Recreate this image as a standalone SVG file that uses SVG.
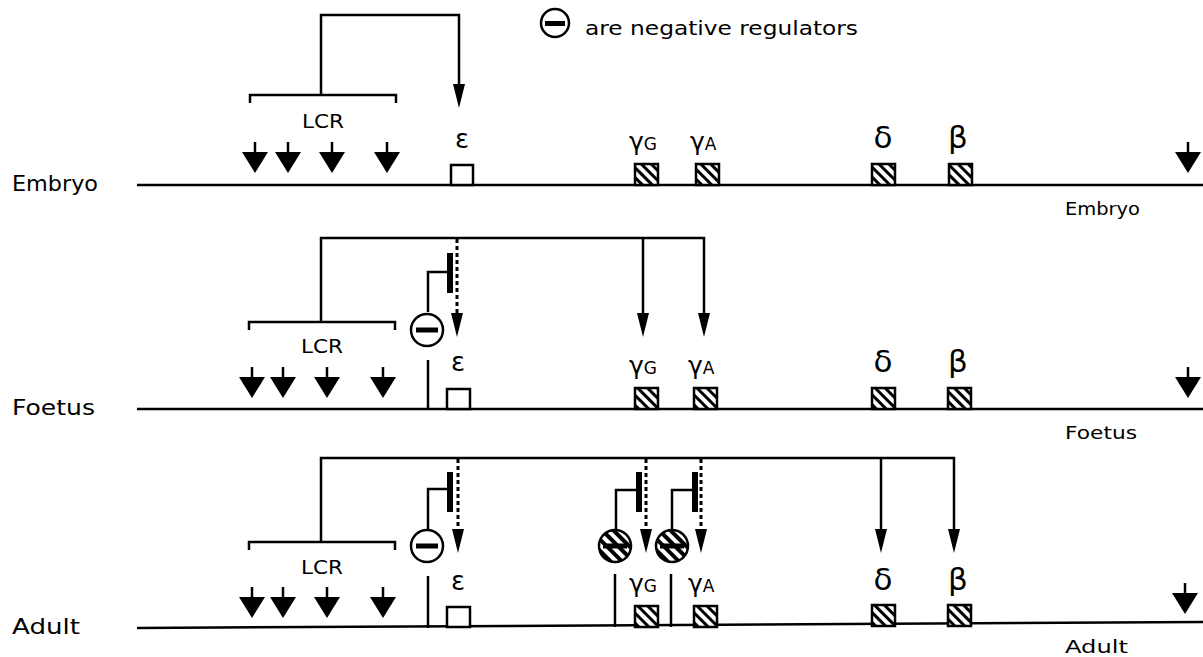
<svg xmlns="http://www.w3.org/2000/svg" width="1203" height="657" viewBox="0 0 1203 657">
<style>
.ln{stroke:#000;stroke-width:2.5;fill:none}
.dot{stroke:#000;stroke-width:3;fill:none;stroke-dasharray:4 3}
.txt{font-family:"DejaVu Sans","Liberation Sans",sans-serif;fill:#000}
.gk{font-family:"DejaVu Sans","Liberation Sans",sans-serif;fill:#000;text-anchor:middle}
.gm{font-family:"DejaVu Sans","Liberation Sans",sans-serif;fill:#000;font-size:25px}
.gm tspan{font-size:17px}
.box{fill:#fff;stroke:#000;stroke-width:2.5}
.hbox{fill:url(#hatch);stroke:#000;stroke-width:2.5}
.circ{fill:#fff;stroke:#000;stroke-width:2.5}
.hcirc{fill:url(#hatch2);stroke:#000;stroke-width:2.5}
</style>
<defs>
<pattern id="hatch" patternUnits="userSpaceOnUse" width="7" height="7" patternTransform="rotate(-45)">
<rect width="7" height="7" fill="#fff"/><rect x="0" y="0" width="3" height="7" fill="#000"/>
</pattern>
<pattern id="hatch2" patternUnits="userSpaceOnUse" width="8" height="8" patternTransform="rotate(-45)">
<rect width="8" height="8" fill="#fff"/><rect x="0" y="0" width="4" height="8" fill="#000"/>
</pattern>
<marker id="ah" viewBox="0 0 24 12" markerWidth="24" markerHeight="12" refX="14" refY="6" orient="auto" markerUnits="userSpaceOnUse">
<path d="M0 0 L24 6 L0 12 Z" fill="#000"/>
</marker>
<g id="bigArrow">
<path d="M0 -31 V-15" stroke="#000" stroke-width="2.5"/>
<path d="M-13 -21 L13 -21 L0 0 Z" fill="#000"/>
</g>
<g id="minusCirc">
<circle r="16" class="circ"/>
<rect x="-11" y="-2.5" width="22" height="5" fill="#000"/>
</g>
<g id="hatchCirc">
<circle r="16" class="hcirc"/>
<rect x="-12" y="-2.5" width="24" height="5" fill="#000"/>
</g>
</defs>
<rect width="1203" height="657" fill="#fff"/>

<g id="legend">
<circle cx="555" cy="23" r="14" class="circ"/>
<rect x="545" y="21" width="20" height="5" fill="#000"/>
<text x="585" y="35" class="txt" font-size="19" textLength="273" lengthAdjust="spacingAndGlyphs">are negative regulators</text>
</g>

<g id="row-labels">
<text x="12" y="191" class="txt" font-size="21" textLength="86" lengthAdjust="spacingAndGlyphs">Embryo</text>
<text x="12" y="415" class="txt" font-size="21" textLength="83" lengthAdjust="spacingAndGlyphs">Foetus</text>
<text x="12" y="634" class="txt" font-size="21" textLength="68" lengthAdjust="spacingAndGlyphs">Adult</text>
<text x="1065" y="215" class="txt" font-size="18" textLength="75" lengthAdjust="spacingAndGlyphs">Embryo</text>
<text x="1065" y="439" class="txt" font-size="18" textLength="72" lengthAdjust="spacingAndGlyphs">Foetus</text>
<text x="1065" y="653" class="txt" font-size="18" textLength="63" lengthAdjust="spacingAndGlyphs">Adult</text>
</g>

<g id="chromosomes">
<path class="ln" d="M137 185 H1203"/>
<path class="ln" d="M137 409 H1203"/>
<path class="ln" d="M137 628 L1203 622"/>
</g>

<!-- Embryo -->
<g id="embryo-lcr">
<path class="ln" d="M250 103 V95 H396 V103"/>
<text x="323" y="128" class="txt" font-size="20" text-anchor="middle" textLength="42" lengthAdjust="spacingAndGlyphs">LCR</text>
<use href="#bigArrow" x="255" y="173"/>
<use href="#bigArrow" x="288" y="173"/>
<use href="#bigArrow" x="332" y="173"/>
<use href="#bigArrow" x="387" y="173"/>
</g>
<g id="embryo-epsilon"><rect x="451" y="165" width="22" height="20" class="box"/><text x="462" y="148" class="gk" font-size="26">ε</text></g>
<g id="embryo-gammaG"><rect x="635" y="164" width="23" height="21" class="hbox"/><text x="629" y="150" class="gm">γ<tspan>G</tspan></text></g>
<g id="embryo-gammaA"><rect x="696" y="164" width="23" height="21" class="hbox"/><text x="690" y="150" class="gm">γ<tspan>A</tspan></text></g>
<g id="embryo-delta"><rect x="872" y="164" width="23" height="21" class="hbox"/><text x="883" y="148" class="gk" font-size="31">δ</text></g>
<g id="embryo-beta"><rect x="949" y="164" width="23" height="21" class="hbox"/><text x="958" y="148" class="gk" font-size="31">β</text></g>
<g id="embryo-3prime"><use href="#bigArrow" x="1188" y="173"/></g>

<!-- Foetus -->
<g id="foetus-lcr">
<path class="ln" d="M249 330 V322 H395 V330"/>
<text x="322" y="353" class="txt" font-size="20" text-anchor="middle" textLength="42" lengthAdjust="spacingAndGlyphs">LCR</text>
<use href="#bigArrow" x="252" y="398"/>
<use href="#bigArrow" x="283" y="398"/>
<use href="#bigArrow" x="327" y="398"/>
<use href="#bigArrow" x="383" y="398"/>
</g>
<g id="foetus-epsilon-repressor">
<rect x="447" y="253" width="6" height="40" fill="#000"/>
<path class="ln" d="M428 312 V272 H447"/>
<use href="#minusCirc" x="427" y="330"/>
<path class="ln" d="M428 360 V409"/>
</g>
<g id="foetus-epsilon"><rect x="447" y="389" width="23" height="20" class="box"/><text x="458" y="371" class="gk" font-size="26">ε</text></g>
<g id="foetus-gammaG"><rect x="635" y="388" width="23" height="21" class="hbox"/><text x="629" y="374" class="gm">γ<tspan>G</tspan></text></g>
<g id="foetus-gammaA"><rect x="694" y="388" width="23" height="21" class="hbox"/><text x="688" y="374" class="gm">γ<tspan>A</tspan></text></g>
<g id="foetus-delta"><rect x="872" y="388" width="23" height="21" class="hbox"/><text x="883" y="372" class="gk" font-size="31">δ</text></g>
<g id="foetus-beta"><rect x="948" y="388" width="23" height="21" class="hbox"/><text x="958" y="372" class="gk" font-size="31">β</text></g>
<g id="foetus-3prime"><use href="#bigArrow" x="1188" y="398"/></g>

<!-- Adult -->
<g id="adult-lcr">
<path class="ln" d="M249 550 V542 H395 V550"/>
<text x="322" y="574" class="txt" font-size="20" text-anchor="middle" textLength="42" lengthAdjust="spacingAndGlyphs">LCR</text>
<use href="#bigArrow" x="252" y="618"/>
<use href="#bigArrow" x="283" y="618"/>
<use href="#bigArrow" x="327" y="618"/>
<use href="#bigArrow" x="383" y="618"/>
</g>
<g id="adult-epsilon-repressor">
<rect x="447" y="472" width="6" height="40" fill="#000"/>
<path class="ln" d="M428 529 V489 H447"/>
<use href="#minusCirc" x="427" y="546"/>
<path class="ln" d="M428 576 V628"/>
</g>
<g id="adult-gammaG-repressor">
<rect x="636" y="472" width="6" height="40" fill="#000"/>
<path class="ln" d="M616 529 V490 H636"/>
<use href="#hatchCirc" x="615" y="546"/>
<path class="ln" d="M615 574 V627"/>
</g>
<g id="adult-gammaA-repressor">
<rect x="692" y="472" width="6" height="40" fill="#000"/>
<path class="ln" d="M672 529 V490 H692"/>
<use href="#hatchCirc" x="672" y="546"/>
<path class="ln" d="M671 574 V627"/>
</g>
<g id="adult-epsilon"><rect x="447" y="607" width="23" height="20" class="box"/><text x="458" y="590" class="gk" font-size="26">ε</text></g>
<g id="adult-gammaG"><rect x="635" y="606" width="23" height="21" class="hbox"/><text x="629" y="592" class="gm">γ<tspan>G</tspan></text></g>
<g id="adult-gammaA"><rect x="694" y="606" width="23" height="21" class="hbox"/><text x="688" y="592" class="gm">γ<tspan>A</tspan></text></g>
<g id="adult-delta"><rect x="872" y="605" width="23" height="21" class="hbox"/><text x="883" y="590" class="gk" font-size="31">δ</text></g>
<g id="adult-beta"><rect x="948" y="605" width="23" height="21" class="hbox"/><text x="958" y="590" class="gk" font-size="31">β</text></g>
<g id="adult-3prime"><use href="#bigArrow" x="1185" y="614"/></g>

<g id="connectors">
<path class="ln" d="M321 95 V15 H459 V98" marker-end="url(#ah)"/>
<path class="ln" d="M321 322 V238 H704 V327" marker-end="url(#ah)"/>
<path class="ln" d="M643 238 V327" marker-end="url(#ah)"/>
<path class="dot" d="M457 239 V327" marker-end="url(#ah)"/>
<path class="ln" d="M321 542 V458 H954 V543" marker-end="url(#ah)"/>
<path class="ln" d="M881 458 V543" marker-end="url(#ah)"/>
<path class="dot" d="M458 459 V543" marker-end="url(#ah)"/>
<path class="dot" d="M646 459 V543" marker-end="url(#ah)"/>
<path class="dot" d="M701 459 V543" marker-end="url(#ah)"/>
</g>
</svg>
